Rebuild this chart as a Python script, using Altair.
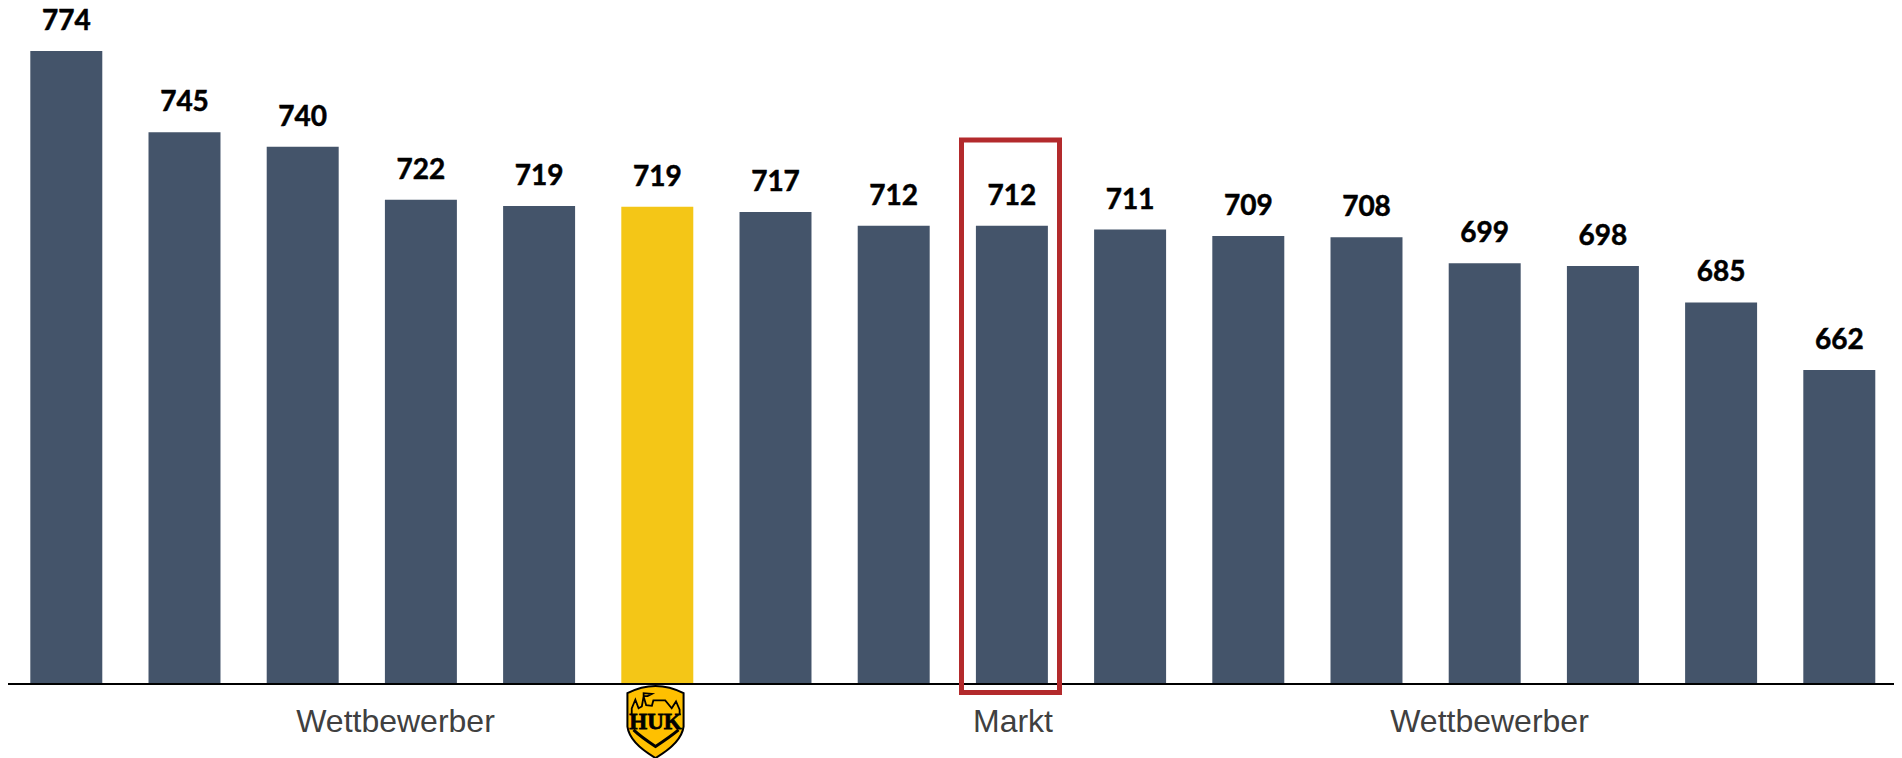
import altair as alt
import pandas as pd

categories = [f"B{i:02d}" for i in range(1, 17)]
bar_values = [774, 745.5, 740.4, 721.8, 719.6, 719.3, 717.5, 712.6, 712.6, 711.3, 709, 708.6, 699.5, 698.5, 685.7, 662]
labels = ["774", "745", "740", "722", "719", "719", "717", "712", "712", "711", "709", "708", "699", "698", "685", "662"]
groups = ["w", "w", "w", "w", "w", "h", "w", "w", "w", "w", "w", "w", "w", "w", "w", "w"]
group_labels = ["Wettbewerber", "Markt", "Wettbewerber"]
group_px = [387.5, 1005, 1481.5]

BAR = "#44546A"
GOLD = "#F4C617"
W, H = 1886, 676
Y_MIN, Y_MAX = 551.7, 789.1

df = pd.DataFrame({"c": categories, "v": bar_values, "l": labels, "g": groups})
xs = alt.X("c:N", axis=None, sort=None,
           scale=alt.Scale(domain=categories, range=[-0.8, 1890.4], paddingInner=0.391, paddingOuter=0.1955, round=False))
ys = alt.Y("v:Q", axis=None, scale=alt.Scale(domain=[Y_MIN, Y_MAX], nice=False, zero=False))

bars = alt.Chart(df).mark_bar(cornerRadius=0).encode(
    x=xs, y=ys, y2=alt.datum(Y_MIN),
    color=alt.Color("g:N", legend=None, scale=alt.Scale(domain=["w", "h"], range=[BAR, GOLD])),
)
text = alt.Chart(df).mark_text(font="Lato", fontWeight="bold", fontSize=28, color="black",
                               stroke="black", strokeWidth=0.5,
                               baseline="alphabetic", dy=-21).encode(x=xs, y=ys, text="l:N")

baseline = alt.Chart(pd.DataFrame({"a": [0]})).mark_rule(color="black", strokeWidth=2).encode(
    x=alt.value(0), x2=alt.value(W), y=alt.value(H))

box = alt.Chart(pd.DataFrame({"a": [0]})).mark_rect(fillOpacity=0, stroke="#B32A2C", strokeWidth=5).encode(
    x=alt.value(953.5), x2=alt.value(1051.5), y=alt.value(132), y2=alt.value(684.5))

glabels = alt.Chart(pd.DataFrame({"t": group_labels, "p": group_px})).mark_text(
    font="Liberation Sans", fontSize=32, color="#404040", baseline="middle", align="center").encode(
    x=alt.X("p:Q", axis=None, scale=None), y=alt.value(714), text="t:N")

SHIELD = "M-.78 -.8 Q0 -1.2 .78 -.8 L.78 .13 Q.72 .58 0 1 Q-.72 .58 -.78 .13 Z"
SKY = ("M-.66 -.2 L-.66 -.38 L-.56 -.62 L-.47 -.38 L-.38 -.43 L-.33 -.71 L-.26 -.47 L-.1 -.45 L-.06 -.6 "
       "L.27 -.6 L.45 -.38 L.57 -.57 L.67 -.34 L.67 -.2 M-.33 -.71 L-.33 -.8 L-.1 -.78 L-.22 -.72 L-.33 -.72")
CHEV = "M-.61 .22 Q-.4 .42 0 .68 Q.4 .42 .64 .22"
LOGO_X, LOGO_Y = 647.5, 714

def logo_mark(path, filled, fill, sw):
    return alt.Chart(pd.DataFrame({"a": [0]})).mark_point(
        shape=path, size=5184, filled=filled, fill=fill, stroke="black", strokeWidth=sw, opacity=1,
        fillOpacity=1 if filled else 0).encode(x=alt.value(LOGO_X), y=alt.value(LOGO_Y))

huk = alt.Chart(pd.DataFrame({"t": ["HUK"]})).mark_text(
    font="Liberation Serif", fontWeight="bold", fontSize=23, color="black", stroke="black", strokeWidth=0.8,
    baseline="middle").encode(x=alt.value(LOGO_X), y=alt.value(LOGO_Y), text="t:N")

chart = alt.layer(
    bars, text, baseline, box, glabels,
    logo_mark(SHIELD, True, "#FFC000", 2), logo_mark(SKY, False, "none", 1.8), logo_mark(CHEV, False, "none", 3), huk,
).resolve_scale(x="independent").properties(
    width=W, height=H,
    autosize=alt.AutoSizeParams(type="none"),
    padding={"left": 0, "top": 0, "right": 0, "bottom": 74},
).configure_view(stroke=None)

chart.save("out.html", embed_options={"renderer": "svg", "actions": False})
